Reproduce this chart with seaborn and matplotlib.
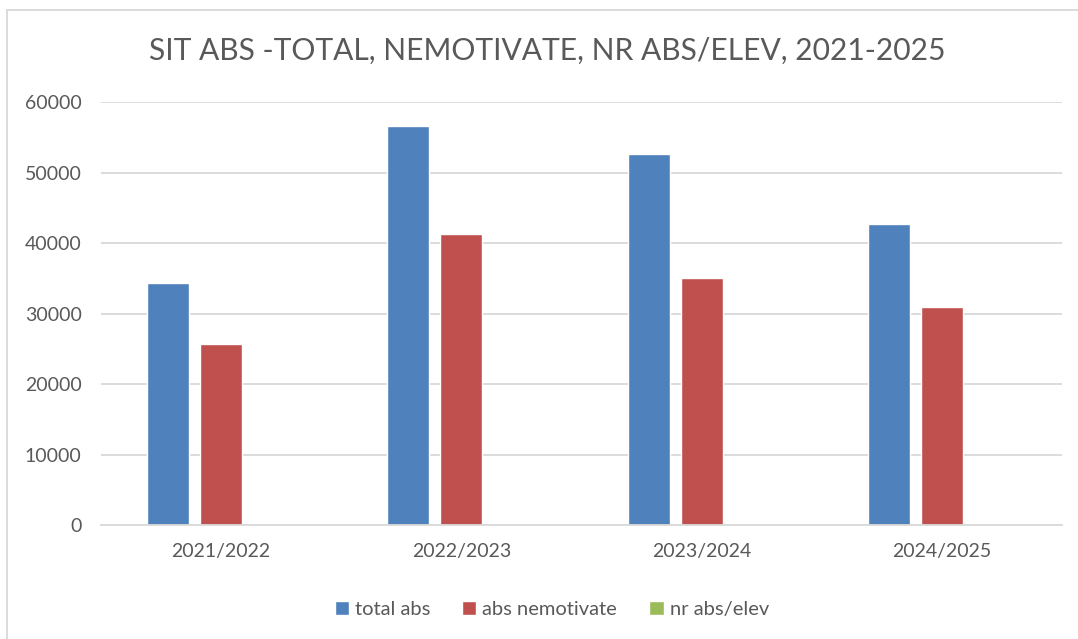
import numpy as np
import pandas as pd
import seaborn as sns
import matplotlib.pyplot as plt
from matplotlib.patches import Rectangle

sns.set_style('white')
plt.rcParams['font.family'] = ['Lato', 'DejaVu Sans']

years = ['2021/2022', '2022/2023', '2023/2024', '2024/2025']
total_abs = [34300, 56700, 52700, 42700]
abs_nemotivate = [25700, 41300, 35100, 30900]
nr_abs_elev = [35, 58, 53, 43]
series = ['total abs', 'abs nemotivate', 'nr abs/elev']
colors = ['#4F81BD', '#C0504D', '#9BBB59']

df = pd.DataFrame({
    'an': years * 3,
    'serie': [s for s in series for _ in years],
    'valoare': total_abs + abs_nemotivate + nr_abs_elev,
})

fig = plt.figure(figsize=(10.78, 6.39), dpi=100)
ax = fig.add_axes([101 / 1078, 1 - 525.3 / 639, 961 / 1078, 423 / 639])

sns.barplot(data=df, x='an', y='valoare', hue='serie', palette=colors,
            width=0.6625, gap=0.21, saturation=1, ax=ax, legend=True)

ax.set_ylim(0, 60000)
ax.set_yticks(np.arange(0, 60001, 10000))
ax.yaxis.grid(True, color='#D9D9D9', linewidth=1.3)
ax.set_axisbelow(True)
for s in ['top', 'right', 'left']:
    ax.spines[s].set_visible(False)
ax.spines['bottom'].set_color('#D9D9D9')
ax.spines['bottom'].set_linewidth(1.3)
ax.set_xlabel('')
ax.set_ylabel('')
ax.tick_params(axis='both', length=0, labelsize=14, colors='#595959')
ax.tick_params(axis='y', pad=14)
ax.tick_params(axis='x', pad=13)

ax.legend(loc='upper center', bbox_to_anchor=(0.469, -0.135), ncol=3, frameon=False,
          fontsize=14.5, labelcolor='#595959', handlelength=0.7, handleheight=0.7,
          handletextpad=0.3, columnspacing=1.6)

fig.text(547 / 1078, 1 - 51 / 639, 'SIT ABS -TOTAL, NEMOTIVATE, NR ABS/ELEV, 2021-2025',
         ha='center', va='center', fontsize=21.6, color='#595959')

# chart border like the Excel frame
fig.patches.append(Rectangle((7 / 1078, -0.1), 1.2, 1 - 9.5 / 639 + 0.1,
                             transform=fig.transFigure, fill=False,
                             edgecolor='#D9D9D9', linewidth=1.3))

fig.savefig('out.png', dpi=100)
